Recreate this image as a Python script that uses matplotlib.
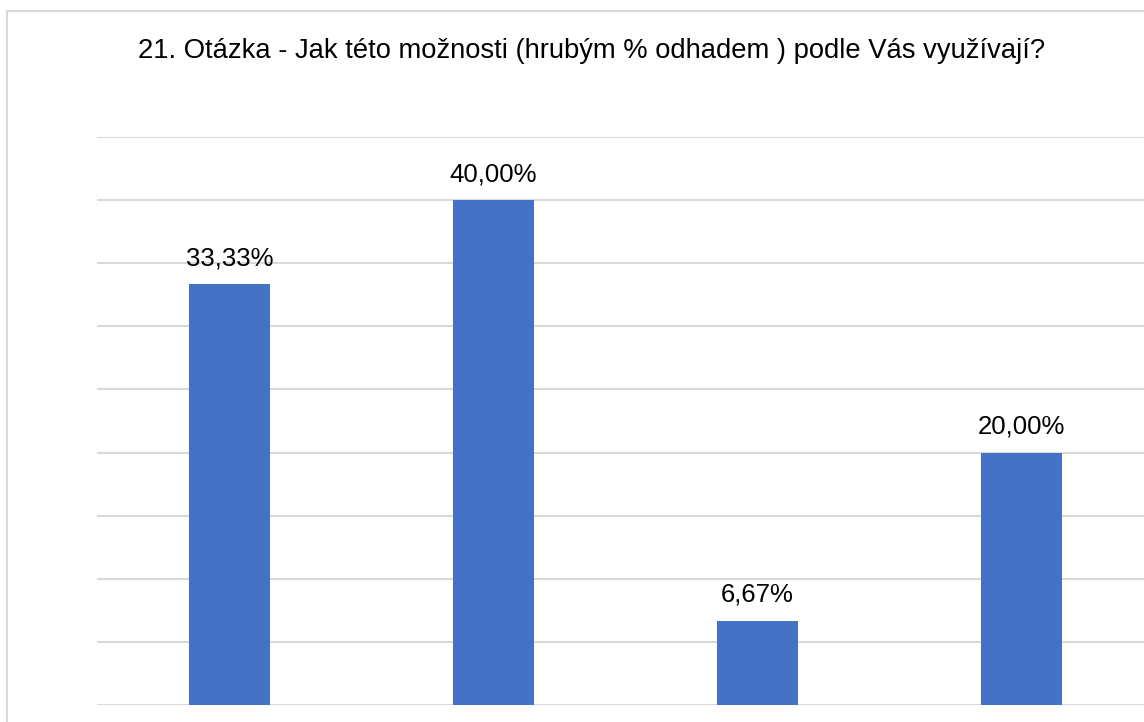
import matplotlib.pyplot as plt
from matplotlib.patches import Rectangle

# data (percent)
categories = ["A", "B", "C", "D"]
values = [33.33, 40.00, 6.67, 20.00]
labels = ["33,33%", "40,00%", "6,67%", "20,00%"]
title = "21. Otázka - Jak této možnosti (hrubým % odhadem ) podle Vás využívají?"

plt.rcParams['font.family'] = ['Liberation Sans', 'DejaVu Sans']

W, H = 1144, 722
fig = plt.figure(figsize=(W / 100, H / 100), dpi=100)

# outer chart border (cut off on the right and bottom)
fig.patches.append(Rectangle((7 / W, -0.1), 1.2, (H - 11) / H + 0.1,
                             transform=fig.transFigure, fill=False,
                             edgecolor='#d9d9d9', linewidth=1.5))

# plot area runs past the right edge of the image
left, right = 97.5, 1153.5
bottom, top = 705, 137
ax = fig.add_axes([left / W, (H - bottom) / H, (right - left) / W, (bottom - top) / H])

x = range(len(categories))
ax.bar(x, values, width=0.31, color='#4472C4', zorder=3)
for i, v in enumerate(values):
    ax.text(i, v + 1.1, labels[i], ha='center', va='bottom', fontsize=18.5, color='#000000')

ax.set_xlim(-0.5, len(categories) - 0.5)
ax.set_ylim(0, 45)
ax.set_yticks(range(0, 50, 5))
ax.grid(axis='y', color='#d9d9d9', linewidth=1.5, zorder=0)
ax.tick_params(left=False, bottom=False, labelleft=False, labelbottom=False)
for s in ax.spines.values():
    s.set_visible(False)

fig.text(592 / W, 1 - 51 / H, title, ha='center', va='center', fontsize=19.75, color='#000000')

plt.savefig('out.png', dpi=100)
